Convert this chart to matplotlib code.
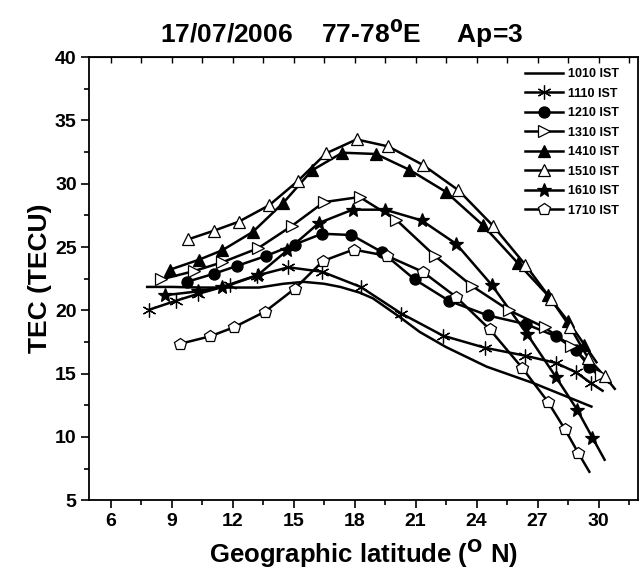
import matplotlib
matplotlib.use("Agg")
import matplotlib.pyplot as plt
from matplotlib.ticker import MultipleLocator

plt.rcParams['font.family'] = ['Liberation Sans', 'DejaVu Sans']
plt.rcParams['font.weight'] = 'bold'

# TEC vs geographic latitude, 17/07/2006, one curve per hour (IST)
lat_1010 = [7.8, 9.0, 10.5, 12.0, 13.3, 14.5, 15.5, 16.5, 17.3, 18.25, 18.9, 20.2, 21.2, 22.5, 24.5, 26.8, 29.65]
tec_1010 = [21.85, 21.85, 21.8, 21.8, 21.8, 22.1, 22.25, 22.1, 21.85, 21.4, 20.95, 19.5, 18.3, 17.1, 15.55, 14.25, 12.4]

lat_1110 = [7.9, 9.2, 10.3, 11.85, 13.2, 14.75, 16.4, 18.3, 20.3, 22.35, 24.4, 26.36, 27.9, 28.9, 29.65]
tec_1110 = [20.05, 20.75, 21.3, 22.0, 22.75, 23.4, 23.05, 21.85, 19.75, 18.0, 17.05, 16.43, 15.85, 15.1, 14.23]

lat_1210 = [9.75, 11.1, 12.2, 13.65, 15.05, 16.4, 17.85, 19.35, 20.95, 22.65, 24.55, 26.45, 27.9, 28.9, 29.55]
tec_1210 = [22.25, 22.9, 23.5, 24.3, 25.2, 26.05, 25.95, 24.6, 22.45, 20.75, 19.6, 18.9, 17.95, 16.85, 15.55]

lat_1310 = [8.5, 10.1, 11.5, 13.25, 14.9, 16.5, 18.25, 20.05, 21.95, 23.8, 25.6, 27.35, 28.65, 30.1]
tec_1310 = [22.45, 23.1, 23.8, 24.9, 26.65, 28.55, 28.95, 27.15, 24.3, 21.9, 20.0, 18.65, 17.2, 14.9]

lat_1410 = [8.9, 10.35, 11.5, 13.0, 14.5, 15.9, 17.4, 19.05, 20.7, 22.5, 24.3, 26.05, 27.5, 28.5, 29.3]
tec_1410 = [23.2, 24.0, 24.75, 26.2, 28.5, 31.05, 32.45, 32.35, 31.1, 29.35, 26.75, 23.7, 21.2, 19.15, 17.3]

lat_1510 = [9.8, 11.1, 12.3, 13.8, 15.2, 16.6, 18.1, 19.65, 21.35, 23.1, 24.8, 26.4, 27.65, 28.6, 29.5, 30.3]
tec_1510 = [25.6, 26.3, 27.0, 28.3, 30.2, 32.4, 33.5, 32.95, 31.5, 29.5, 26.7, 23.6, 20.9, 18.7, 16.2, 14.8]

lat_1610 = [8.7, 10.3, 11.5, 13.25, 14.7, 16.25, 17.9, 19.5, 21.3, 23.0, 24.75, 26.5, 27.9, 28.95, 29.7]
tec_1610 = [21.2, 21.5, 21.85, 22.8, 24.75, 26.9, 27.95, 27.95, 27.1, 25.25, 22.0, 18.1, 14.75, 12.15, 9.95]

lat_1710 = [9.4, 10.9, 12.05, 13.6, 15.05, 16.45, 17.95, 19.6, 21.35, 23.0, 24.65, 26.25, 27.5, 28.35, 29.0]
tec_1710 = [17.35, 17.95, 18.65, 19.9, 21.7, 23.9, 24.8, 24.3, 23.05, 21.05, 18.5, 15.45, 12.8, 10.6, 8.75]

# where the fitted curves run on past the last marker
end_lat = [None, 30.2, 29.9, 30.5, 29.9, 30.8, 30.3, 29.55]
end_tec = [None, 13.65, 15.0, 14.3, 15.9, 13.8, 8.2, 7.25]

labels = ['1010 IST', '1110 IST', '1210 IST', '1310 IST',
          '1410 IST', '1510 IST', '1610 IST', '1710 IST']

series = [(lat_1010, tec_1010), (lat_1110, tec_1110), (lat_1210, tec_1210),
          (lat_1310, tec_1310), (lat_1410, tec_1410), (lat_1510, tec_1510),
          (lat_1610, tec_1610), (lat_1710, tec_1710)]

# marker, size, face colour
styles = [(None, 0, 'black'),
          ((6, 2, 0), 10, 'black'),
          ('o', 8, 'black'),
          ('>', 9, 'white'),
          ('^', 9, 'black'),
          ('^', 9, 'white'),
          ('*', 10, 'black'),
          ('p', 9, 'white')]

fig = plt.figure(figsize=(6.42, 5.77), dpi=100)
ax = fig.add_axes([0.139, 0.133, 0.855, 0.768])

for i in range(len(series)):
    x, y = series[i]
    mk, ms, fc = styles[i]
    lx, ly = list(x), list(y)
    if end_lat[i] is not None:
        lx.append(end_lat[i])
        ly.append(end_tec[i])
    ax.plot(lx, ly, color='black', lw=1.8, zorder=2)
    if mk is not None:
        ax.plot(x, y, ls='none', marker=mk, ms=ms, mfc=fc, mec='black', mew=0.9, zorder=3)
    # legend proxy
    ax.plot([], [], color='black', lw=1.8, marker=mk, ms=ms, mfc=fc, mec='black',
            mew=0.9, label=labels[i])

ax.set_xlim(4.95, 31.95)
ax.set_ylim(5, 40)
ax.xaxis.set_major_locator(MultipleLocator(3))
ax.xaxis.set_minor_locator(MultipleLocator(1.5))
ax.yaxis.set_major_locator(MultipleLocator(5))
ax.yaxis.set_minor_locator(MultipleLocator(2.5))
ax.tick_params(which='major', direction='out', length=6, width=1.2, labelsize=14, pad=3)
ax.tick_params(which='minor', direction='out', length=3.5, width=1.2)
for t in ax.get_xticklabels() + ax.get_yticklabels():
    t.set_fontweight('bold')

# top ticks point inwards in the original
sec = ax.secondary_xaxis('top')
sec.xaxis.set_major_locator(MultipleLocator(1.5))
sec.tick_params(direction='in', length=4, width=1.0, labeltop=False)

for s in ax.spines.values():
    s.set_linewidth(1.3)

ax.set_xlabel('Geographic latitude ($\\mathbf{^{O}}$ N)', fontsize=18.5, fontweight='bold', labelpad=5)
ax.set_ylabel('TEC (TECU)', fontsize=19, fontweight='bold', labelpad=2)
ax.set_title('17/07/2006    77-78$\\mathbf{^{0}}$E     Ap=3', fontsize=19,
             fontweight='bold', pad=10, x=0.46)

leg = ax.legend(loc='upper right', frameon=False, fontsize=9, handlelength=3.0,
                labelspacing=0.6, borderaxespad=0.5, handletextpad=0.4,
                bbox_to_anchor=(0.985, 1.0))
for t in leg.get_texts():
    t.set_fontweight('bold')

fig.savefig('out.png', dpi=100)
